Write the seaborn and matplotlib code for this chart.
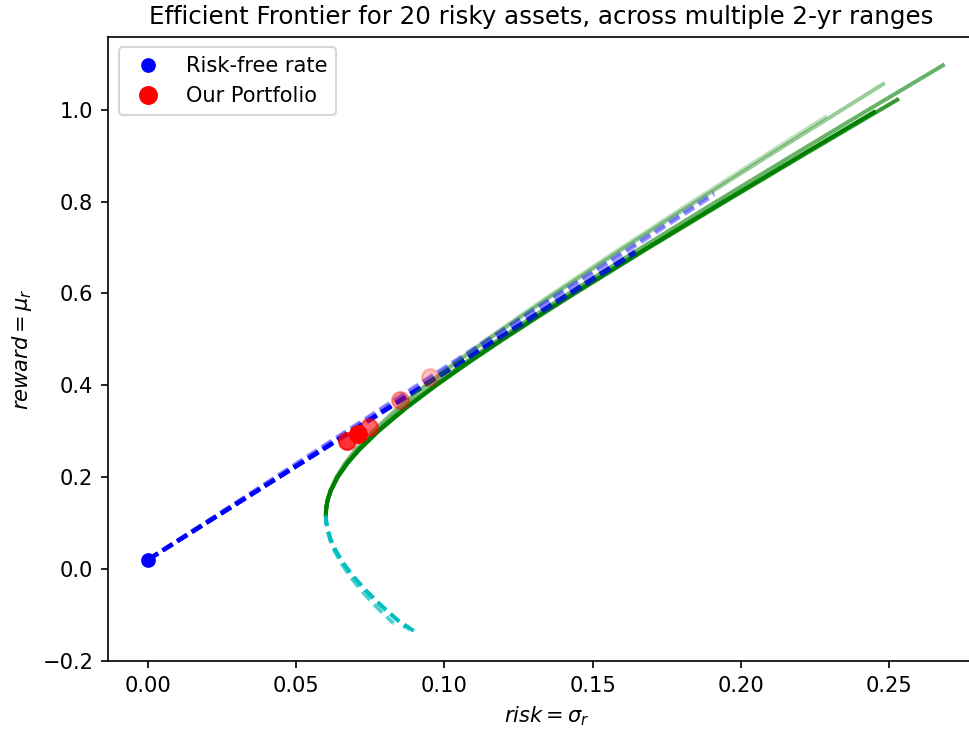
import matplotlib
matplotlib.use("Agg")
import matplotlib.pyplot as plt
from matplotlib.lines import Line2D
import seaborn as sns
import pandas as pd

# ---- data ----
range_names = ["R1", "R2", "R3", "R4", "R5"]
range_alpha = [1.0, 0.8, 0.6, 0.4, 0.25]

# efficient (upper) branch: reward values and matching risk values
mu_up_common = [0.118, 0.125, 0.135, 0.15, 0.17, 0.2, 0.23, 0.26, 0.3, 0.35,
                0.4, 0.45, 0.5, 0.55, 0.6, 0.7, 0.8, 0.9]
upper_mu = [
    mu_up_common + [0.995],
    mu_up_common + [1.022],
    mu_up_common + [1.0, 1.097],
    mu_up_common + [1.0, 1.056],
    mu_up_common + [0.984],
]
upper_sigma = [
    [0.0600, 0.06003, 0.06018, 0.06062, 0.06163, 0.06398, 0.06723, 0.07126, 0.07764,
     0.08686, 0.09710, 0.10807, 0.11957, 0.13145, 0.14363, 0.16861, 0.19415, 0.22006,
     0.2449],
    [0.0600, 0.06003, 0.06018, 0.06063, 0.06164, 0.06400, 0.06727, 0.07133, 0.07775,
     0.08702, 0.09731, 0.10833, 0.11987, 0.13181, 0.14404, 0.16911, 0.19475, 0.22075,
     0.2528],
    [0.0600, 0.06003, 0.06017, 0.06061, 0.06159, 0.06387, 0.06704, 0.07098, 0.07721,
     0.08624, 0.09628, 0.10705, 0.11834, 0.13002, 0.14200, 0.16659, 0.19174, 0.21726,
     0.2430, 0.2682],
    [0.0600, 0.06003, 0.06016, 0.06056, 0.06147, 0.06358, 0.06652, 0.07019, 0.07603,
     0.08451, 0.09398, 0.10418, 0.11490, 0.12602, 0.13743, 0.16090, 0.18495, 0.20937,
     0.2341, 0.2480],
    [0.0600, 0.06003, 0.06016, 0.06055, 0.06144, 0.06353, 0.06643, 0.07005, 0.07580,
     0.08419, 0.09356, 0.10365, 0.11426, 0.12527, 0.13658, 0.15984, 0.18368, 0.20791,
     0.2285],
]

# inefficient (lower) branch
mu_lo_common = [0.118, 0.11, 0.10, 0.085, 0.065, 0.04, 0.01, -0.02, -0.05, -0.08, -0.11]
sigma_lo_right = [0.0600, 0.06004, 0.06018, 0.06060, 0.06153, 0.06326, 0.06610,
                  0.06969, 0.07391, 0.07866, 0.08385]
sigma_lo_left = [0.0600, 0.06003, 0.06016, 0.06053, 0.06134, 0.06287, 0.06540,
                 0.06859, 0.07237, 0.07664, 0.08133]
lower_mu = [
    mu_lo_common + [-0.139],
    mu_lo_common[:-1] + [-0.128],
    mu_lo_common[:-1] + [-0.118],
    mu_lo_common + [-0.134],
    mu_lo_common[:-1] + [-0.121],
]
lower_sigma = [
    sigma_lo_right + [0.0905],
    sigma_lo_right[:-1] + [0.0871],
    sigma_lo_left[:-1] + [0.0827],
    sigma_lo_right + [0.0883],
    sigma_lo_left[:-1] + [0.0832],
]

# risk-free asset
rf_sigma = 0.0
rf_mu = 0.02

# capital market line end points
cml_end_sigma = [0.1644, 0.1644, 0.1644, 0.191, 0.191]
cml_end_mu = [0.690, 0.688, 0.692, 0.815, 0.820]

# "Our Portfolio" points
port_sigma = [0.0707, 0.0671, 0.0744, 0.0850, 0.0950]
port_mu = [0.294, 0.279, 0.310, 0.368, 0.417]

# ---- figure ----
W, H, DPI = 969, 732, 151.4
fig = plt.figure(figsize=(W / DPI, H / DPI), dpi=DPI)
ax = fig.add_axes([0.1115, 0.097, 0.92, 0.8525])

for i, name in enumerate(range_names):
    a = range_alpha[i]
    up = pd.DataFrame({"sigma": upper_sigma[i], "mu": upper_mu[i]})
    lo = pd.DataFrame({"sigma": lower_sigma[i], "mu": lower_mu[i]})
    cml = pd.DataFrame({"sigma": [rf_sigma, cml_end_sigma[i]],
                        "mu": [rf_mu, cml_end_mu[i]]})
    sns.lineplot(data=up, x="sigma", y="mu", sort=False, estimator=None,
                 color="g", alpha=a, linewidth=1.9, ax=ax)
    sns.lineplot(data=lo, x="sigma", y="mu", sort=False, estimator=None,
                 color="c", alpha=a, linewidth=1.8, linestyle=(0, (3.0, 1.6)), ax=ax)
    sns.lineplot(data=cml, x="sigma", y="mu", sort=False, estimator=None,
                 color="b", alpha=a, linewidth=2.0, linestyle=(0, (2.8, 1.3)), ax=ax)

ax.plot([rf_sigma], [rf_mu], "o", color="b", markersize=6)
for i in range(len(range_names)):
    ax.plot([port_sigma[i]], [port_mu[i]], "o", color="r", markersize=8,
            alpha=range_alpha[i])

ax.set_xlim(-0.0135, 0.2873)
ax.set_ylim(-0.2008, 1.1588)
ax.spines["right"].set_visible(False)

handles = [
    Line2D([], [], marker="o", color="b", linestyle="None", markersize=6),
    Line2D([], [], marker="o", color="r", linestyle="None", markersize=8),
]
ax.legend(handles, ["Risk-free rate", "Our Portfolio"], loc="upper left")

ax.set_title("Efficient Frontier for 20 risky assets, across multiple 2-yr ranges",
             x=0.4857, fontsize=11.65)
ax.set_xlabel(r"$risk = \sigma_r$", x=0.4925)
ax.set_ylabel(r"$reward = \mu_r$")

fig.savefig("out.png", dpi=DPI)
